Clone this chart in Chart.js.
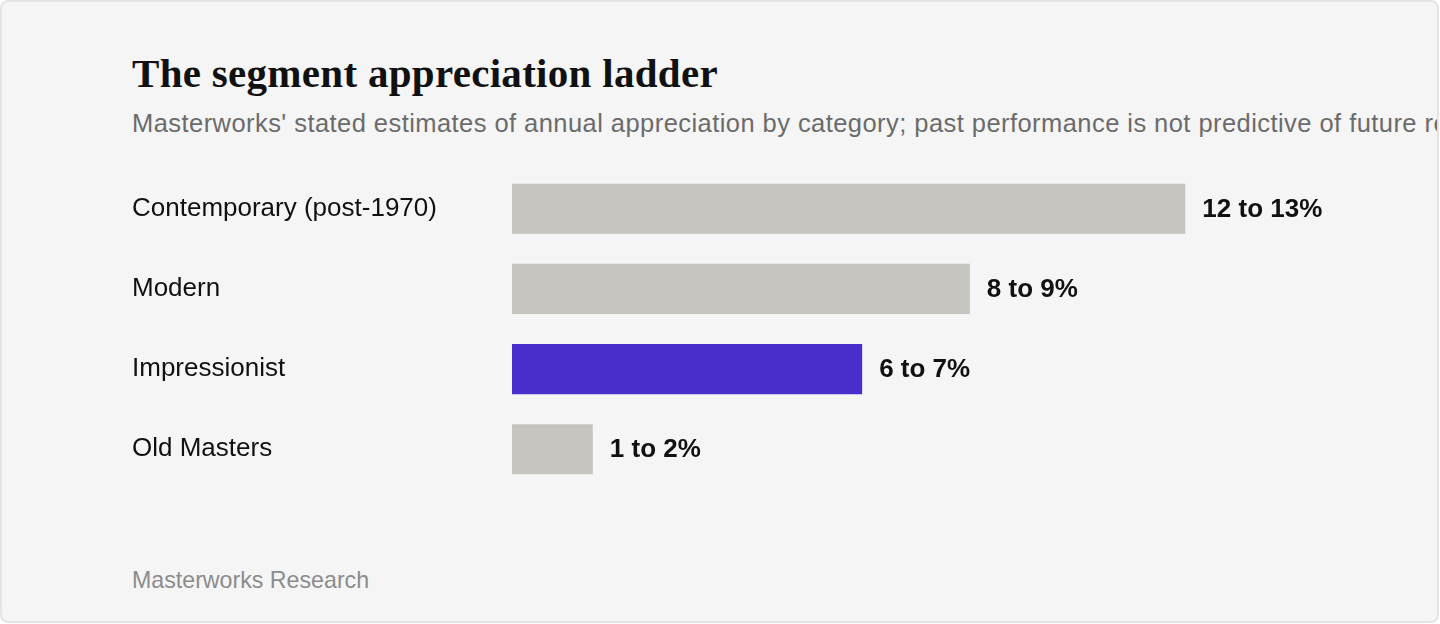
<!DOCTYPE html>
<html lang="en">
<head>
    <meta charset="UTF-8">
    <title>The segment appreciation ladder</title>
    <script src="https://cdn.jsdelivr.net/npm/chart.js"></script>
    <style>
        html, body { margin: 0; padding: 0; background: #ffffff; overflow: hidden; }
        .card {
            position: absolute; left: 0; top: 0; width: 1439px; height: 623px;
            border-radius: 8px; background: #f5f5f5; overflow: hidden;
        }
        .card::after {
            content: ""; position: absolute; left: 0; top: 0; right: 0; bottom: 0;
            border: 2px solid #e4e4e4; border-radius: 8px; pointer-events: none;
        }
        .title {
            position: absolute; left: 132px; top: 49px; margin: 0; white-space: nowrap;
            font-family: "Liberation Serif", serif; font-weight: 700; font-size: 41px;
            letter-spacing: 0.3px; color: #111111; line-height: 48px;
        }
        .subtitle {
            position: absolute; left: 132px; top: 108px; margin: 0; white-space: nowrap;
            font-family: "Liberation Sans", Arial, sans-serif; font-size: 25.5px;
            letter-spacing: 0.44px; color: #6b6b6b; line-height: 30px;
        }
        .source {
            position: absolute; left: 132px; top: 566px; margin: 0; white-space: nowrap;
            font-family: "Liberation Sans", Arial, sans-serif; font-size: 23.2px;
            color: #8c8c8c; line-height: 28px;
        }
        .chart-box { position: absolute; left: 132px; top: 153px; width: 1288px; height: 352px; }
    </style>
</head>
<body>
    <div class="card">
        <h1 class="title">The segment appreciation ladder</h1>
        <p class="subtitle">Masterworks' stated estimates of annual appreciation by category; past performance is not predictive of future results</p>
        <div class="chart-box"><canvas id="ladderChart"></canvas></div>
        <p class="source">Masterworks Research</p>
    </div>

    <script>
        // categories and midpoints of each stated range (%)
        const categories = ["Contemporary (post-1970)", "Modern", "Impressionist", "Old Masters"];
        const midpoints = [12.5, 8.5, 6.5, 1.5];
        const rangeLabels = ["12 to 13%", "8 to 9%", "6 to 7%", "1 to 2%"];
        const highlightIndex = 2;

        const barColors = categories.map(function (c, i) {
            return i === highlightIndex ? "#4a2ecc" : "#c6c5c0";
        });

        // draws the range text just after each bar end
        const rangeLabelPlugin = {
            id: "rangeLabels",
            afterDatasetsDraw: function (chart) {
                const ctx = chart.ctx;
                const meta = chart.getDatasetMeta(0);
                ctx.save();
                ctx.font = "bold 26px 'Liberation Sans', Arial, sans-serif";
                ctx.fillStyle = "#111111";
                ctx.textAlign = "left";
                ctx.textBaseline = "middle";
                meta.data.forEach(function (bar, i) {
                    ctx.fillText(rangeLabels[i], bar.x + 17, bar.y + 1);
                });
                ctx.restore();
            }
        };

        new Chart(document.getElementById("ladderChart"), {
            type: "bar",
            data: {
                labels: categories,
                datasets: [{
                    data: midpoints,
                    backgroundColor: barColors,
                    borderWidth: 0,
                    barPercentage: 0.625,
                    categoryPercentage: 1.0
                }]
            },
            options: {
                indexAxis: "y",
                responsive: true,
                maintainAspectRatio: false,
                animation: false,
                layout: { padding: { left: 0, right: 100, top: 0, bottom: 0 } },
                plugins: {
                    legend: { display: false },
                    tooltip: { enabled: false }
                },
                scales: {
                    x: {
                        display: false,
                        min: 0,
                        max: 15
                    },
                    y: {
                        grid: { display: false },
                        border: { display: false },
                        afterFit: function (scale) { scale.width = 380; },
                        ticks: {
                            crossAlign: "far",
                            color: "#111111",
                            padding: 0,
                            font: { family: "'Liberation Sans', Arial, sans-serif", size: 26 }
                        }
                    }
                }
            },
            plugins: [rangeLabelPlugin]
        });
    </script>
</body>
</html>
